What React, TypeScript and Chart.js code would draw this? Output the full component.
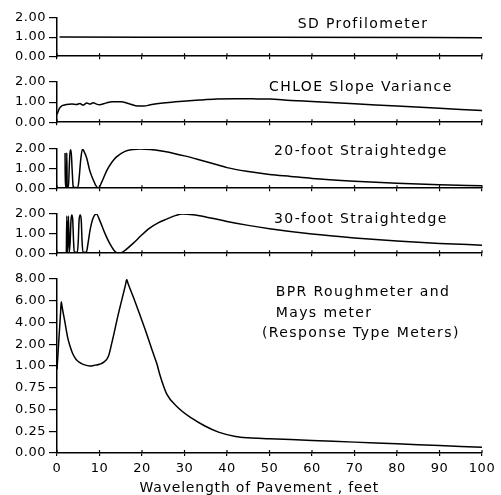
import React, { useEffect, useRef } from "react";
import { Chart, registerables } from "chart.js";
Chart.register(...registerables);

// ---------- data ----------
const xTickValues = [0, 10, 20, 30, 40, 50, 60, 70, 80, 90, 100];
const smallTickLabels = ["0.00", "1.00", "2.00"];
const bprTickLabels = ["0.00", "0.25", "0.50", "0.75", "1.00", "2.00", "4.00", "6.00", "8.00"];
const xTitle = "Wavelength of Pavement , feet";

const sdX = [0.6, 50, 100];
const sdY = [1.0, 0.99, 0.97];

const chloeX = [0, 0.6, 1.2, 2.2, 3.5, 4.6, 5.4, 6.1, 7.0, 7.8, 8.5, 9.3, 10, 11.5, 13, 15, 17, 19, 20.5, 22, 25.7, 29.6, 33.5, 37.5, 42, 47, 50, 55, 60, 70, 80, 90, 100];
const chloeY = [0.38, 0.7, 0.82, 0.88, 0.9, 0.88, 0.93, 0.85, 0.95, 0.9, 0.97, 0.9, 0.87, 0.95, 1.02, 1.02, 0.92, 0.8, 0.8, 0.87, 0.97, 1.04, 1.1, 1.15, 1.17, 1.16, 1.15, 1.08, 1.03, 0.92, 0.8, 0.69, 0.58];

const se20X = [1.9, 1.95, 2.25, 2.3, 2.4, 2.7, 2.9, 3.1, 3.3, 3.55, 3.8, 4.0, 4.9, 5.2, 5.6, 6.0, 6.3, 7.0, 7.7, 8.5, 9.1, 9.7, 10.6, 11.7, 13.0, 14.0, 16.0, 18.0, 19.5, 22, 25, 28, 30, 33, 36, 40, 45, 50, 55, 60, 70, 80, 90, 100];
const se20Y = [1.8, 0.1, 0.1, 1.8, 0.1, 0.05, 1.2, 1.95, 1.95, 1.0, 0.1, 0.04, 0.04, 0.5, 1.5, 2.0, 1.9, 1.53, 0.9, 0.44, 0.15, 0.0, 0.35, 0.9, 1.35, 1.6, 1.88, 1.98, 2.0, 1.98, 1.88, 1.75, 1.65, 1.48, 1.3, 1.05, 0.85, 0.7, 0.6, 0.5, 0.36, 0.25, 0.17, 0.12];

const se30X = [2.2, 2.3, 2.5, 2.7, 2.9, 3.1, 3.3, 3.5, 3.7, 3.9, 4.05, 4.8, 5.0, 5.2, 5.45, 5.7, 5.9, 6.1, 6.9, 7.3, 7.8, 8.5, 9.3, 10.0, 11.2, 12.4, 13.6, 14.2, 15.0, 16.3, 17.9, 19.8, 21.8, 23.8, 25.8, 28.0, 29.5, 32, 35, 40, 45, 50, 60, 70, 80, 90, 100];
const se30Y = [0.05, 1.9, 0.05, 1.9, 0.05, 0.6, 1.7, 1.95, 1.7, 0.6, 0.05, 0.05, 0.6, 1.7, 1.95, 1.7, 0.6, 0.05, 0.05, 0.5, 1.2, 1.8, 2.0, 1.7, 1.05, 0.5, 0.1, 0.02, 0.02, 0.2, 0.5, 0.9, 1.28, 1.55, 1.74, 1.93, 2.0, 1.96, 1.85, 1.62, 1.42, 1.25, 0.98, 0.78, 0.62, 0.5, 0.41];

const bprX = [0, 0.5, 0.85, 1.0, 1.15, 1.4, 1.8, 2.5, 3.0, 3.7, 4.5, 5.3, 6.5, 7.7, 9.0, 10.0, 11.0, 12.1, 12.9, 14.4, 16.1, 16.4, 16.7, 18.35, 20.7, 22.7, 23.5, 24.2, 25.8, 28.5, 31.7, 34.8, 38.0, 42.0, 45.0, 50, 60, 70, 80, 90, 100];
const bprY = [0.96, 2.8, 4.96, 5.9, 5.58, 5.0, 4.17, 2.64, 1.95, 1.56, 1.3, 1.17, 1.05, 1.0, 1.04, 1.08, 1.18, 1.45, 2.12, 4.72, 7.44, 7.95, 7.6, 5.94, 3.4, 1.55, 1.1, 0.9, 0.68, 0.52, 0.4, 0.31, 0.24, 0.19, 0.175, 0.165, 0.145, 0.125, 0.105, 0.085, 0.065];

// BPR panel uses a piecewise axis: 0..1 in quarters, then 1, 2, 4, 6, 8
function bprAxis(v: number): number {
  if (v <= 1) return v * 4;
  if (v <= 2) return 4 + (v - 1);
  return 5 + (v - 2) / 2;
}

const FONT = '"DejaVu Sans", sans-serif';

type Note = { text: string; x: number; y: number; alignPrev?: boolean };
type PanelDef = {
  top: number;
  height: number;
  padTop: number;
  xh: number;
  series: { xs: number[]; ys: number[] }[];
  transform?: (v: number) => number;
  yMax: number;
  yLabels: string[];
  showX: boolean;
  notes: Note[];
  title?: { text: string; x: number; dy: number };
};

const panels: PanelDef[] = [
  {
    top: 0, height: 67, padTop: 18, xh: 6,
    series: [{ xs: sdX, ys: sdY }], yMax: 2, yLabels: smallTickLabels, showX: false,
    notes: [{ text: "SD Profilometer", x: 72, y: 1.67 }],
  },
  {
    top: 67, height: 66, padTop: 15, xh: 6,
    series: [{ xs: chloeX, ys: chloeY }], yMax: 2, yLabels: smallTickLabels, showX: false,
    notes: [{ text: "CHLOE Slope Variance", x: 71.5, y: 1.73 }],
  },
  {
    top: 133, height: 66, padTop: 16, xh: 6,
    series: [{ xs: se20X, ys: se20Y }], yMax: 2, yLabels: smallTickLabels, showX: false,
    notes: [{ text: "20-foot Straightedge", x: 71.5, y: 1.86 }],
  },
  {
    top: 199, height: 65, padTop: 15, xh: 6,
    series: [{ xs: se30X, ys: se30Y }], yMax: 2, yLabels: smallTickLabels, showX: false,
    notes: [{ text: "30-foot Straightedge", x: 71.5, y: 1.73 }],
  },
  {
    top: 264, height: 231, padTop: 15, xh: 42,
    series: [{ xs: bprX, ys: bprY }], transform: bprAxis, yMax: 8, yLabels: bprTickLabels, showX: true,
    notes: [
      { text: "BPR Roughmeter and", x: 72, y: 7.4 },
      { text: "Mays meter", x: 0, y: 6.44, alignPrev: true },
      { text: "(Response Type Meters)", x: 71.5, y: 5.52 },
    ],
    title: { text: xTitle, x: 47.6, dy: 35 },
  },
];

const spacingPlugin = {
  id: "spacing",
  beforeDraw(chart: any) {
    (chart.ctx as any).letterSpacing = "0.5px";
  },
};

const notesPlugin = {
  id: "notes",
  afterDraw(chart: any, _args: any, opts: any) {
    const { ctx, scales, chartArea } = chart;
    ctx.save();
    ctx.fillStyle = "#000";
    ctx.strokeStyle = "#000";
    // tick marks crossing above the x axis
    ctx.lineWidth = 1.2;
    for (const t of xTickValues) {
      const px = scales.x.getPixelForValue(t);
      ctx.beginPath();
      ctx.moveTo(px, chartArea.bottom - 3);
      ctx.lineTo(px, chartArea.bottom);
      ctx.stroke();
    }
    (ctx as any).letterSpacing = "1.4px";
    ctx.font = `14px ${FONT}`;
    ctx.textBaseline = "middle";
    ctx.textAlign = "left";
    let prevLeft = 0;
    for (const n of (opts.items || []) as Note[]) {
      const py = scales.y.getPixelForValue(n.y);
      const w = ctx.measureText(n.text).width;
      const left = n.alignPrev ? prevLeft : scales.x.getPixelForValue(n.x) - w / 2;
      ctx.fillText(n.text, left, py);
      prevLeft = left;
    }
    if (opts.title) {
      const t = opts.title;
      (ctx as any).letterSpacing = "0.8px";
      ctx.font = `14px ${FONT}`;
      ctx.textAlign = "center";
      ctx.fillText(t.text, scales.x.getPixelForValue(t.x), chartArea.bottom + t.dy);
    }
    ctx.restore();
  },
};

function Panel({ def }: { def: PanelDef }) {
  const ref = useRef<HTMLCanvasElement>(null);
  useEffect(() => {
    const tf = def.transform || ((v: number) => v);
    const chart = new Chart(ref.current as HTMLCanvasElement, {
      type: "line",
      data: {
        datasets: def.series.map((s) => ({
          data: s.xs.map((x, i) => ({ x, y: tf(s.ys[i]) })),
          borderColor: "#000",
          borderWidth: 1.5,
          pointRadius: 0,
          fill: false,
          cubicInterpolationMode: "monotone" as const,
        })),
      },
      options: {
        animation: false,
        responsive: false,
        devicePixelRatio: 1,
        layout: { padding: { top: def.padTop, right: 19, left: 0, bottom: 0 } },
        plugins: {
          legend: { display: false },
          tooltip: { enabled: false },
          notes: { items: def.notes, title: def.title },
        } as any,
        scales: {
          x: {
            type: "linear",
            min: 0,
            max: 100,
            afterFit: (s: any) => { s.height = def.xh; },
            afterBuildTicks: (s: any) => { s.ticks = xTickValues.map((v) => ({ value: v })); },
            border: { display: true, color: "#000", width: 1.5 },
            grid: { display: true, drawOnChartArea: false, drawTicks: true, tickLength: 3, color: "#000", lineWidth: 1.2 },
            ticks: {
              display: def.showX,
              color: "#000",
              padding: 5,
              maxRotation: 0,
              autoSkip: false,
              font: { family: FONT, size: 13 },
            },
          },
          y: {
            type: "linear",
            min: 0,
            max: def.yMax,
            afterFit: (s: any) => { s.width = 57; },
            border: { display: true, color: "#000", width: 1.5 },
            grid: { display: true, drawOnChartArea: false, drawTicks: true, tickLength: 8, color: "#000", lineWidth: 1.2 },
            ticks: {
              stepSize: 1,
              autoSkip: false,
              color: "#000",
              padding: 3,
              font: { family: FONT, size: 13 },
              callback: (v: any) => def.yLabels[Math.round(Number(v))] ?? "",
            },
          },
        },
      },
      plugins: [spacingPlugin, notesPlugin],
    } as any);
    return () => chart.destroy();
  }, []);
  return (
    <canvas
      ref={ref}
      width={501}
      height={def.height}
      style={{ position: "absolute", left: 0, top: def.top, width: 501, height: def.height }}
    />
  );
}

export default function App() {
  return (
    <div style={{ position: "absolute", left: 0, top: 0, width: 501, height: 495, background: "#fff", overflow: "hidden" }}>
      {panels.map((p, i) => (
        <Panel key={i} def={p} />
      ))}
    </div>
  );
}
